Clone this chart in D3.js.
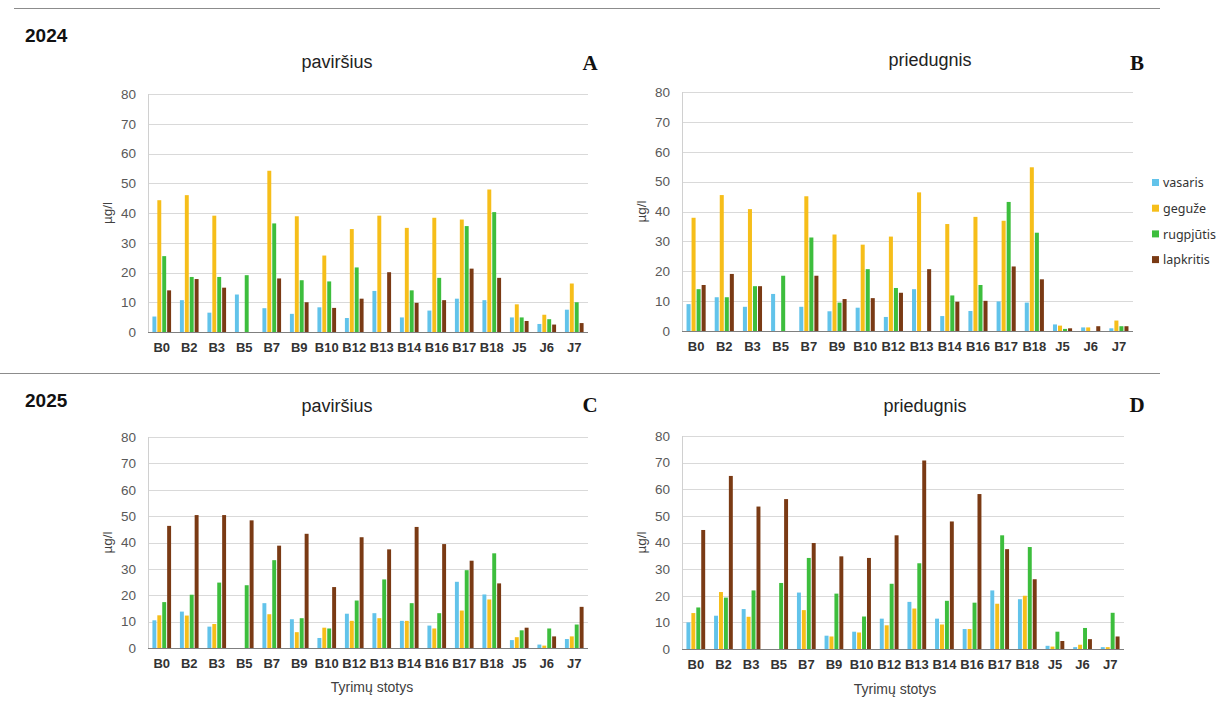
<!DOCTYPE html>
<html><head><meta charset="utf-8">
<script src="https://cdn.jsdelivr.net/npm/d3@7"></script>
<style>
html,body{margin:0;padding:0;background:#fff;}
svg{display:block;}
</style></head>
<body>
<svg id="chart" width="1228" height="715"></svg>
<script>
// ---------- DATA ----------
const stations = ["B0","B2","B3","B5","B7","B9","B10","B12","B13","B14","B16","B17","B18","J5","J6","J7"];
const months = ["vasaris","geguže","rugpjūtis","lapkritis"];
const yTicks = [0,10,20,30,40,50,60,70,80];

// A: 2024 paviršius
const a_vasaris   = [5.2,10.7,6.5,12.6,8.0,6.1,8.3,4.7,13.8,4.9,7.2,11.2,10.7,4.9,2.7,7.5];
const a_geguze    = [44.3,46.0,39.1,null,54.2,38.9,25.7,34.6,39.1,35.0,38.4,37.8,47.9,9.3,5.8,16.3];
const a_rugpjutis = [25.5,18.5,18.5,19.1,36.5,17.4,17.0,21.7,null,14.0,18.2,35.6,40.3,4.9,4.3,10.0];
const a_lapkritis = [14.0,17.8,14.9,null,18.0,10.0,8.1,11.2,20.1,9.8,10.7,21.3,18.2,3.7,2.5,3.0];

// B: 2024 priedugnis
const b_vasaris   = [9.0,11.3,8.1,12.4,8.1,6.6,7.8,4.7,14.0,5.0,6.7,9.9,9.5,2.2,1.2,0.9];
const b_geguze    = [37.9,45.5,40.8,null,45.1,32.3,28.9,31.6,46.4,35.8,38.2,36.9,54.8,1.8,1.2,3.5];
const b_rugpjutis = [14.0,11.3,15.0,18.5,31.3,9.5,20.7,14.4,null,11.9,15.4,43.2,32.9,0.7,null,1.6];
const b_lapkritis = [15.4,19.1,15.0,null,18.5,10.7,11.0,12.8,20.7,9.8,10.1,21.6,17.3,0.9,1.6,1.6];

// C: 2025 paviršius
const c_vasaris   = [10.5,13.8,8.1,null,17.0,10.9,3.8,13.0,13.2,10.3,8.5,25.1,20.3,3.0,1.3,3.4];
const c_geguze    = [12.4,12.3,9.1,null,12.8,6.0,7.7,10.3,11.3,10.3,7.4,14.2,18.4,4.1,0.9,4.4];
const c_rugpjutis = [17.4,20.2,24.8,23.8,33.3,11.3,7.4,18.0,26.0,17.0,13.2,29.5,35.9,6.7,7.4,8.9];
const c_lapkritis = [46.3,50.4,50.4,48.4,38.8,43.3,23.1,42.0,37.4,45.9,39.4,33.1,24.5,7.7,4.4,15.6];

// D: 2025 priedugnis
const d_vasaris   = [10.0,12.5,15.0,null,21.2,5.0,6.5,11.4,17.7,11.4,7.5,22.0,18.7,1.2,0.7,0.7];
const d_geguze    = [13.5,21.4,12.1,null,14.6,4.7,6.2,8.9,15.2,9.2,7.5,17.0,20.0,0.9,1.6,0.7];
const d_rugpjutis = [15.6,19.3,22.0,24.8,34.2,20.8,12.2,24.5,32.2,18.1,17.4,42.7,38.3,6.5,7.9,13.6];
const d_lapkritis = [44.7,65.0,53.5,56.3,39.8,34.8,34.2,42.7,70.8,47.9,58.2,37.5,26.2,3.0,3.7,4.7];

const colors = ["#62C3EA","#F6BE1A","#3DBE3D","#7A3A14"];

// ---------- DRAW ----------
const svg = d3.select("#chart");

// separators
svg.append("line").attr("x1",14).attr("x2",1160).attr("y1",8.5).attr("y2",8.5).attr("stroke","#8c8c8c").attr("stroke-width",1);
svg.append("line").attr("x1",0).attr("x2",1160).attr("y1",373.5).attr("y2",373.5).attr("stroke","#8c8c8c").attr("stroke-width",1);

svg.append("text").attr("x",25).attr("y",42).text("2024")
  .attr("font-family","Liberation Sans, Arial, sans-serif").attr("font-weight","bold").attr("font-size",19).attr("fill","#111");
svg.append("text").attr("x",25).attr("y",407).text("2025")
  .attr("font-family","Liberation Sans, Arial, sans-serif").attr("font-weight","bold").attr("font-size",19).attr("fill","#111");

const panels = [
  {left:148,right:588,top:94,bottom:332,title:"paviršius",tx:337,ty:68,letter:"A",lx:590,ly:70,ylx:112,xTitle:null,series:[a_vasaris,a_geguze,a_rugpjutis,a_lapkritis]},
  {left:682,right:1133,top:92,bottom:331,title:"priedugnis",tx:930,ty:66,letter:"B",lx:1137,ly:70,ylx:646,xTitle:null,series:[b_vasaris,b_geguze,b_rugpjutis,b_lapkritis]},
  {left:148,right:588,top:437,bottom:648,title:"paviršius",tx:337,ty:412,letter:"C",lx:590,ly:412,ylx:112,xTitle:{x:372,y:692},series:[c_vasaris,c_geguze,c_rugpjutis,c_lapkritis]},
  {left:682,right:1124,top:436,bottom:649,title:"priedugnis",tx:925,ty:412,letter:"D",lx:1137,ly:412,ylx:646,xTitle:{x:895,y:694},series:[d_vasaris,d_geguze,d_rugpjutis,d_lapkritis]}
];

panels.forEach(p => {
  const g = svg.append("g");
  const x = d3.scaleBand().domain(stations).range([p.left,p.right]).paddingInner(0).paddingOuter(0);
  const y = d3.scaleLinear().domain([0,80]).range([p.bottom,p.top]);
  const inner = d3.scaleBand().domain(months).range([0,x.bandwidth()]).paddingInner(0.2).paddingOuter(0.9);

  // gridlines
  g.append("g").selectAll("line").data(yTicks.filter(d=>d>0)).join("line")
    .attr("x1",p.left).attr("x2",p.right)
    .attr("y1",d=>Math.round(y(d))+0.5).attr("y2",d=>Math.round(y(d))+0.5)
    .attr("stroke","#d9d9d9").attr("stroke-width",1);
  // left axis line
  g.append("line").attr("x1",p.left+0.5).attr("x2",p.left+0.5).attr("y1",p.top).attr("y2",p.bottom)
    .attr("stroke","#d0d0d0");

  // y axis
  const yAxis = d3.axisLeft(y).tickValues(yTicks).tickSize(0).tickPadding(12);
  const ya = g.append("g").attr("transform",`translate(${p.left},0)`).call(yAxis);
  ya.select(".domain").remove();
  ya.selectAll("text").attr("font-family","Liberation Sans, Arial, sans-serif").attr("font-size",13.5).attr("fill","#595959");

  // bars
  p.series.forEach((vals,si) => {
    g.append("g").selectAll("rect").data(stations.map((s,i)=>({s,v:vals[i]})).filter(d=>d.v!=null)).join("rect")
      .attr("x",d=>x(d.s)+inner(months[si]))
      .attr("width",inner.bandwidth())
      .attr("y",d=>y(d.v))
      .attr("height",d=>y(0)-y(d.v))
      .attr("fill",colors[si]);
  });

  // baseline
  g.append("line").attr("x1",p.left).attr("x2",p.right).attr("y1",Math.round(y(0))+0.5).attr("y2",Math.round(y(0))+0.5)
    .attr("stroke","#7f7f7f").attr("stroke-width",1);

  // x axis labels
  const xAxis = d3.axisBottom(x).tickSize(0).tickPadding(11);
  const xa = g.append("g").attr("transform",`translate(0,${p.bottom})`).call(xAxis);
  xa.select(".domain").remove();
  xa.selectAll("text").attr("font-family","Liberation Sans, Arial, sans-serif").attr("font-size",13).attr("font-weight","bold").attr("fill","#333");

  // y label
  g.append("text").attr("transform",`translate(${p.ylx},${(p.top+p.bottom)/2}) rotate(-90)`)
    .attr("text-anchor","middle").text("µg/l")
    .attr("font-family","Liberation Sans, Arial, sans-serif").attr("font-size",13.5).attr("fill","#404040");

  // title
  g.append("text").attr("x",p.tx).attr("y",p.ty).attr("text-anchor","middle").text(p.title)
    .attr("font-family","Liberation Sans, Arial, sans-serif").attr("font-size",18).attr("fill","#222");
  // panel letter
  g.append("text").attr("x",p.lx).attr("y",p.ly).attr("text-anchor","middle").text(p.letter)
    .attr("font-family","Liberation Serif, Times New Roman, serif").attr("font-weight","bold").attr("font-size",21).attr("fill","#111");

  if (p.xTitle) {
    g.append("text").attr("x",p.xTitle.x).attr("y",p.xTitle.y).attr("text-anchor","middle").text("Tyrimų stotys")
      .attr("font-family","Liberation Sans, Arial, sans-serif").attr("font-size",14).attr("fill","#404040");
  }
});

// legend
const lg = svg.append("g").attr("transform","translate(1152,183)");
months.forEach((m,i) => {
  const row = lg.append("g").attr("transform",`translate(0,${i*25.7})`);
  row.append("rect").attr("x",0).attr("y",-4).attr("width",7).attr("height",7).attr("fill",colors[i]);
  row.append("text").attr("x",11).attr("y",0).attr("dy","0.35em").text(m)
    .attr("font-family","Noto Sans, sans-serif").attr("font-size",12.5).attr("fill","#333");
});
</script>
</body></html>
